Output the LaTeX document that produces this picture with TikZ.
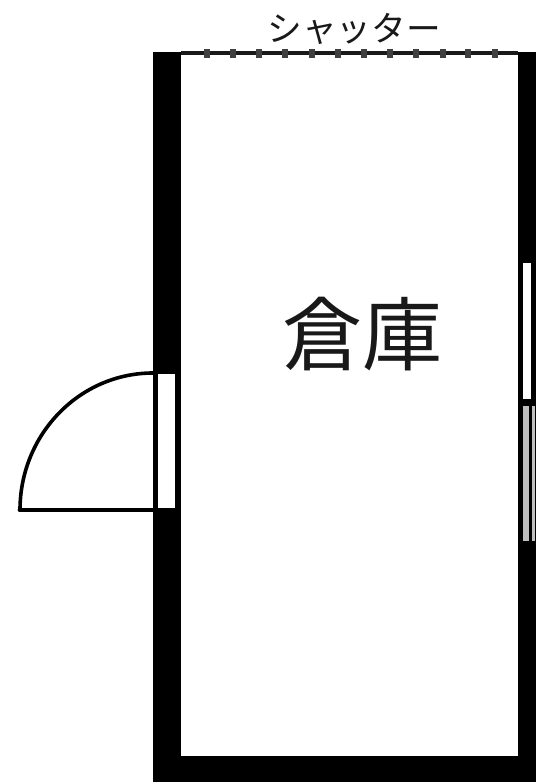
\documentclass[tikz,border=0pt]{standalone}
\usepackage{fontspec}
\newfontfamily\cjk{Noto Sans CJK JP}
\tikzset{
  wall/.style={fill=black,draw=none},
  opening/.style={fill=white,draw=none},
  leaf/.style={draw=black,line width=3.6pt,line cap=round},
  swing/.style={draw=black,line width=2.7pt,line cap=round},
  shutterline/.style={draw=black!90,line width=3pt},
  tick/.style={draw=black!75,line width=4pt},
  glazing/.style={fill=black!25,draw=none},
  label/.style={inner sep=0pt,text=black!90}
}
\begin{document}
\begin{tikzpicture}[x=0.75pt,y=-0.75pt]
\useasboundingbox (0,0) rectangle (536,784);
\fill[white] (0,0) rectangle (536,784);
% walls
\fill[wall] (153,52) rectangle (181,782);
\fill[wall] (153,756) rectangle (536,782);
\fill[wall] (518,52) rectangle (536,782);
% shutter
\draw[shutterline] (181,53) -- (518,53);
\foreach \x in {207,233,259,285,312,338,364,390,416,443,468,495}
  \draw[tick] (\x,49) -- (\x,58);
% door opening
\fill[opening] (157.5,374) rectangle (175,508);
\draw[leaf] (153,510) -- (20,510);
\draw[swing] (20,510) arc[start angle=180,end angle=270,x radius=133,y radius=137];
% right window
\fill[opening] (523,263) rectangle (531,399);
\fill[glazing] (522.5,406) rectangle (529,541);
\fill[glazing] (532,406) rectangle (535,541);
% labels
\node[label,font=\cjk\fontsize{26}{26}\selectfont] (shutter) at (354,29) {シャッター};
\node[label,font=\cjk\fontsize{60}{60}\selectfont] (room) at (362,334) {倉庫};
\end{tikzpicture}
\end{document}
